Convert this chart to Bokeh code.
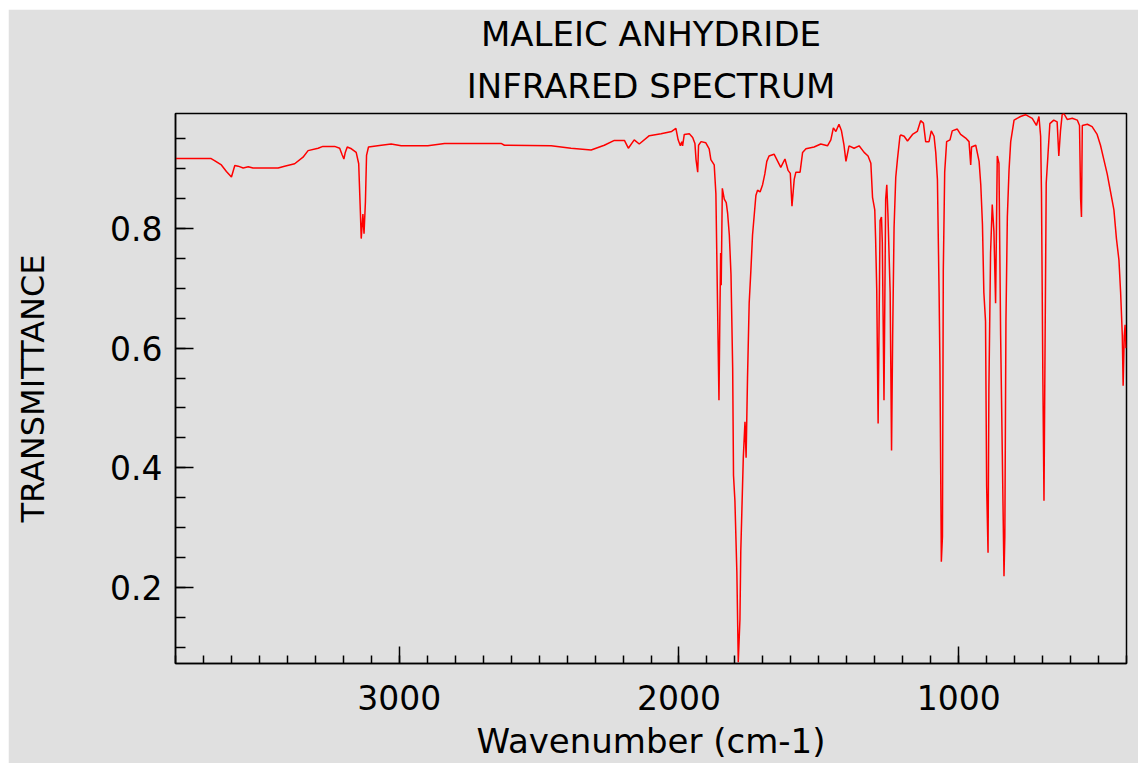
from bokeh.plotting import figure
from bokeh.models import Range1d, SingleIntervalTicker, Title, Spacer
from bokeh.layouts import column, row
from bokeh.embed import file_html
from bokeh.resources import INLINE

wavenumber = [
    3800, 3674, 3659, 3636, 3618, 3600, 3588, 3576, 3558, 3540, 3523, 3433, 3410, 3374, 3344, 3326,
    3290, 3273, 3231, 3213, 3205, 3198, 3193, 3186, 3171, 3154, 3145, 3139, 3136, 3130, 3126, 3121,
    3117, 3110, 3064, 3029, 2993, 2898, 2838, 2636, 2624, 2457, 2386, 2314, 2267, 2231, 2195, 2181,
    2160, 2142, 2106, 2064, 2026, 2011, 2003, 1995, 1990, 1987, 1981, 1963, 1951, 1943, 1939, 1933,
    1930, 1921, 1904, 1892, 1886, 1874, 1868, 1862, 1857, 1854, 1851, 1849, 1845, 1838, 1831, 1826,
    1820, 1814, 1808, 1805, 1800, 1793, 1788, 1782, 1779, 1770, 1764, 1760, 1755, 1749, 1743, 1737,
    1725, 1719, 1710, 1701, 1693, 1686, 1678, 1660, 1636, 1621, 1610, 1602, 1596, 1588, 1582, 1567,
    1558, 1546, 1517, 1493, 1469, 1457, 1448, 1439, 1428, 1419, 1410, 1403, 1392, 1374, 1356, 1338,
    1324, 1314, 1308, 1300, 1297, 1293, 1288, 1281, 1276, 1273, 1267, 1261, 1257, 1253, 1245, 1240,
    1236, 1231, 1225, 1219, 1210, 1207, 1195, 1183, 1165, 1148, 1136, 1126, 1118, 1106, 1098, 1088,
    1082, 1076, 1070, 1067, 1062, 1058, 1055, 1050, 1043, 1031, 1023, 1005, 993, 975, 963, 957,
    954, 939, 927, 921, 915, 910, 904, 900, 895, 892, 886, 880, 874, 868, 862, 856,
    850, 844, 838, 835, 831, 826, 820, 814, 802, 779, 761, 737, 722, 713, 707, 704,
    699, 695, 692, 687, 681, 674, 660, 648, 642, 636, 630, 624, 612, 594, 576, 568,
    564, 561, 558, 540, 523, 505, 493, 481, 469, 457, 445, 436, 427, 421, 415, 412,
    408, 405, 402,
]
transmittance = [
    0.917, 0.917, 0.913, 0.906, 0.895, 0.886, 0.905, 0.904, 0.901, 0.903, 0.901, 0.901, 0.904, 0.908, 0.919, 0.930,
    0.934, 0.937, 0.937, 0.934, 0.924, 0.916, 0.927, 0.936, 0.933, 0.927, 0.908, 0.827, 0.783, 0.824, 0.791, 0.844,
    0.922, 0.936, 0.939, 0.941, 0.938, 0.938, 0.942, 0.942, 0.939, 0.938, 0.934, 0.931, 0.939, 0.947, 0.947, 0.934,
    0.948, 0.941, 0.955, 0.958, 0.962, 0.967, 0.948, 0.938, 0.945, 0.938, 0.957, 0.958, 0.952, 0.942, 0.915, 0.894,
    0.939, 0.945, 0.943, 0.933, 0.915, 0.906, 0.858, 0.669, 0.513, 0.645, 0.759, 0.705, 0.867, 0.849, 0.843, 0.825,
    0.789, 0.723, 0.567, 0.387, 0.345, 0.225, 0.075, 0.147, 0.261, 0.417, 0.477, 0.417, 0.549, 0.675, 0.729, 0.789,
    0.855, 0.864, 0.861, 0.873, 0.891, 0.912, 0.921, 0.924, 0.902, 0.916, 0.897, 0.892, 0.837, 0.882, 0.894, 0.894,
    0.927, 0.933, 0.936, 0.941, 0.938, 0.948, 0.968, 0.962, 0.974, 0.963, 0.939, 0.912, 0.938, 0.934, 0.938, 0.927,
    0.921, 0.909, 0.852, 0.831, 0.783, 0.699, 0.474, 0.813, 0.819, 0.777, 0.513, 0.849, 0.873, 0.825, 0.693, 0.429,
    0.621, 0.801, 0.885, 0.915, 0.954, 0.956, 0.954, 0.946, 0.957, 0.962, 0.980, 0.976, 0.945, 0.945, 0.963, 0.954,
    0.927, 0.882, 0.693, 0.573, 0.243, 0.285, 0.729, 0.894, 0.945, 0.948, 0.963, 0.966, 0.957, 0.951, 0.945, 0.906,
    0.936, 0.939, 0.912, 0.873, 0.807, 0.693, 0.645, 0.369, 0.258, 0.531, 0.759, 0.840, 0.795, 0.675, 0.921, 0.909,
    0.621, 0.423, 0.219, 0.285, 0.645, 0.819, 0.897, 0.945, 0.981, 0.987, 0.990, 0.984, 0.972, 0.987, 0.954, 0.861,
    0.549, 0.345, 0.549, 0.876, 0.921, 0.975, 0.981, 0.978, 0.921, 0.963, 0.990, 0.992, 0.982, 0.984, 0.981, 0.972,
    0.849, 0.819, 0.972, 0.974, 0.970, 0.957, 0.939, 0.915, 0.891, 0.861, 0.831, 0.783, 0.747, 0.693, 0.621, 0.537,
    0.621, 0.639, 0.600,
]

title_line1 = "MALEIC ANHYDRIDE"
title_line2 = "INFRARED SPECTRUM"
x_label = "Wavenumber (cm-1)"
y_label = "TRANSMITTANCE"

BG = "#e0e0e0"
FONT = "DejaVu Sans"

p = figure(width=1130, height=754, output_backend="svg", toolbar_location=None,
           x_range=Range1d(3800, 400), y_range=Range1d(0.073, 0.992),
           min_border_left=167, min_border_right=12, min_border_top=103, min_border_bottom=100)
p.title.visible = False
p.background_fill_color = BG
p.border_fill_color = BG
p.outline_line_color = "black"
p.outline_line_width = 1.5
p.grid.visible = False

p.line(wavenumber, transmittance, line_color="#ff0000", line_width=1.5)

p.xaxis.ticker = SingleIntervalTicker(interval=1000, num_minor_ticks=10)
p.yaxis.ticker = SingleIntervalTicker(interval=0.2, num_minor_ticks=4)

for ax in (p.xaxis[0], p.yaxis[0]):
    ax.axis_line_color = "black"
    ax.axis_line_width = 1.5
    ax.major_tick_line_color = "black"
    ax.minor_tick_line_color = "black"
    ax.major_tick_line_width = 1.5
    ax.minor_tick_line_width = 1.5
    ax.major_tick_out = 0
    ax.minor_tick_out = 0
    ax.major_label_text_font = FONT
    ax.major_label_text_font_size = "33px"
    ax.major_label_text_color = "black"
    ax.axis_label_text_font = FONT
    ax.axis_label_text_font_style = "normal"
    ax.axis_label_text_color = "black"

p.yaxis.major_tick_in = 18
p.yaxis.minor_tick_in = 10
p.xaxis.major_tick_in = 17
p.xaxis.minor_tick_in = 8
p.yaxis.major_label_standoff = 13
p.xaxis.major_label_standoff = 21
p.yaxis.axis_label = y_label
p.yaxis.axis_label_text_font_size = "32px"
p.yaxis.axis_label_standoff = 55
p.xaxis.axis_label = x_label
p.xaxis.axis_label_text_font_size = "34px"
p.xaxis.axis_label_standoff = 8

t2 = Title(text=title_line2, align="center", text_font=FONT, text_font_size="34px",
           text_font_style="normal", text_color="black", standoff=16)
t1 = Title(text=title_line1, align="center", text_font=FONT, text_font_size="34px",
           text_font_style="normal", text_color="black", standoff=4)
p.add_layout(t2, "above")
p.add_layout(t1, "above")

layout = column(Spacer(height=9), row(Spacer(width=8), p, spacing=0), spacing=0)

open("out.html", "w").write(file_html(layout, INLINE))
